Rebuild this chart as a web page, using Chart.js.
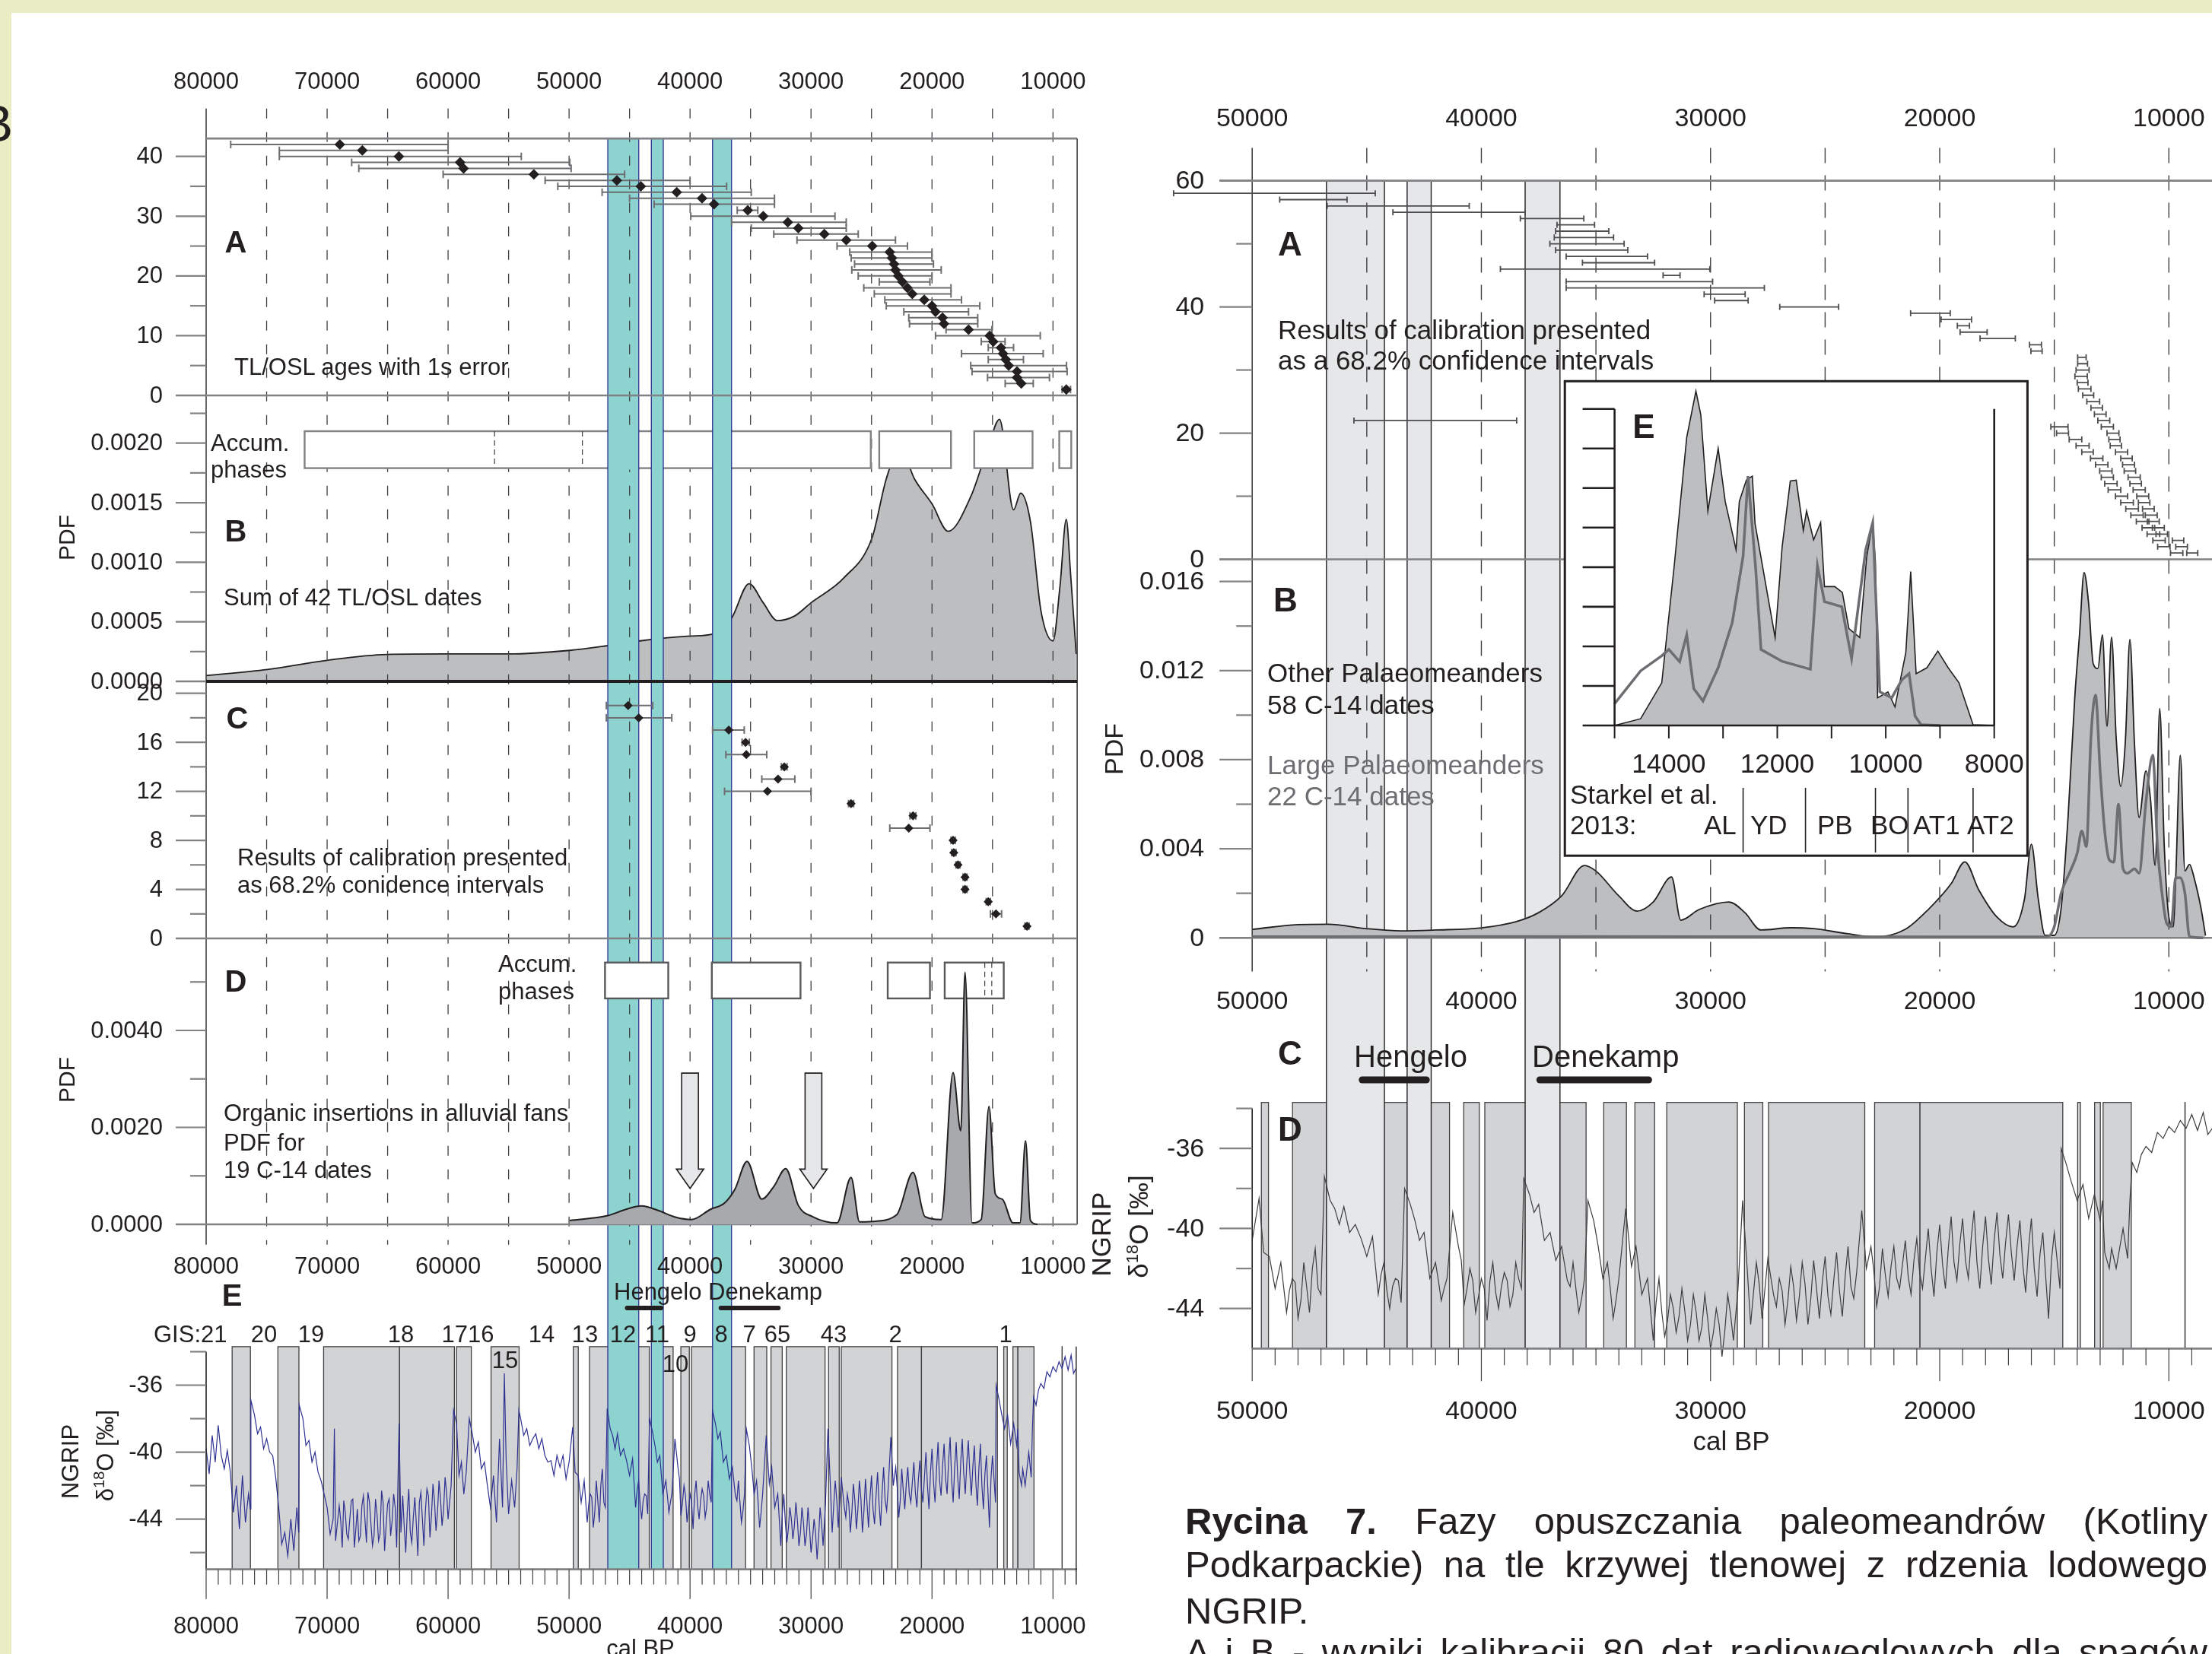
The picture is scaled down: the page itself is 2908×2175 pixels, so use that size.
<!DOCTYPE html>
<html>
<head>
<meta charset="utf-8">
<script src="https://cdn.jsdelivr.net/npm/chart.js@4.4.1/dist/chart.umd.min.js"></script>
<style>
  html, body { margin: 0; padding: 0; }
  body { width: 2908px; height: 2175px; overflow: hidden; position: relative; background: #e8edc3;
         font-family: "Liberation Sans", Arial, sans-serif; color: #231f20; }
  #page { position: absolute; left: 15px; top: 17px; width: 2893px; height: 2158px; background: #fff; }
  #fig { position: absolute; left: 0; top: 0; }
  .t { position: absolute; white-space: nowrap; line-height: 1; transform: translateY(-50%); }
  .c { transform: translate(-50%, -50%); }
  .v { transform: translate(-50%, -50%) rotate(-90deg); }
  .L { font-size: 31px; }
  .R { font-size: 35px; }
  .bl { font-size: 40px; font-weight: bold; }
  .br { font-size: 44px; font-weight: bold; }
  .cap { position: absolute; left: 1558px; width: 1344px; font-size: 49px; line-height: 1;
         transform: translateY(-50%); text-align: justify; text-align-last: justify; }
</style>
</head>
<body>
<div id="page"></div>
<canvas id="fig" width="2908" height="2175"></canvas>

<!-- left figure -->
<div class="t" style="left:-31px;width:48px;text-align:right;top:162px;font-size:68px;">B</div>
<div class="t c bl" style="left:310px;top:318px;">A</div>
<div class="t L" style="left:308px;top:482px;">TL/OSL ages with 1s error</div>
<div class="t L" style="left:277px;top:582px;">Accum.</div>
<div class="t L" style="left:277px;top:617px;">phases</div>
<div class="t c bl" style="left:310px;top:698px;">B</div>
<div class="t L" style="left:294px;top:785px;">Sum of 42 TL/OSL dates</div>
<div class="t v" style="left:88px;top:707px;font-size:30px;">PDF</div>
<div class="t c bl" style="left:312px;top:944px;">C</div>
<div class="t L" style="left:312px;top:1127px;">Results of calibration presented</div>
<div class="t L" style="left:312px;top:1163px;">as 68.2% conidence intervals</div>
<div class="t c bl" style="left:310px;top:1290px;">D</div>
<div class="t L" style="left:655px;top:1267px;">Accum.</div>
<div class="t L" style="left:655px;top:1303px;">phases</div>
<div class="t v" style="left:88px;top:1420px;font-size:30px;">PDF</div>
<div class="t L" style="left:294px;top:1463px;">Organic insertions in alluvial fans</div>
<div class="t L" style="left:294px;top:1502px;">PDF for</div>
<div class="t L" style="left:294px;top:1538px;">19 C-14 dates</div>
<div class="t c bl" style="left:305px;top:1703px;">E</div>
<div class="t L" style="left:807px;top:1698px;">Hengelo Denekamp</div>
<div class="t L" style="left:202px;top:1754px;">GIS:21</div>
<div class="t c L" style="left:347px;top:1754px;">20</div>
<div class="t c L" style="left:409px;top:1754px;">19</div>
<div class="t c L" style="left:527px;top:1754px;">18</div>
<div class="t c L" style="left:615px;top:1754px;">1716</div>
<div class="t c L" style="left:712px;top:1754px;">14</div>
<div class="t c L" style="left:769px;top:1754px;">13</div>
<div class="t c L" style="left:819px;top:1754px;">12</div>
<div class="t c L" style="left:864px;top:1754px;">11</div>
<div class="t c L" style="left:907px;top:1754px;">9</div>
<div class="t c L" style="left:948px;top:1754px;">8</div>
<div class="t c L" style="left:985px;top:1754px;">7</div>
<div class="t c L" style="left:1022px;top:1754px;">65</div>
<div class="t c L" style="left:1096px;top:1754px;">43</div>
<div class="t c L" style="left:1177px;top:1754px;">2</div>
<div class="t c L" style="left:1322px;top:1754px;">1</div>
<div class="t c L" style="left:664px;top:1788px;">15</div>
<div class="t c L" style="left:888px;top:1793px;">10</div>
<div class="t v L" style="left:92px;top:1922px;">NGRIP</div>
<div class="t v L" style="left:137px;top:1914px;">&delta;<sup style="font-size:20px">18</sup>O [&permil;]</div>
<div class="t c L" style="left:842px;top:2167px;">cal BP</div>

<!-- right figure -->
<div class="t c br" style="left:1696px;top:321px;">A</div>
<div class="t R" style="left:1680px;top:433px;">Results of calibration presented</div>
<div class="t R" style="left:1680px;top:473px;">as a 68.2% confidence intervals</div>
<div class="t c br" style="left:1690px;top:789px;">B</div>
<div class="t R" style="left:1666px;top:884px;">Other Palaeomeanders</div>
<div class="t R" style="left:1666px;top:926px;">58 C-14 dates</div>
<div class="t R" style="left:1666px;top:1005px;color:#6d6e71;">Large Palaeomeanders</div>
<div class="t R" style="left:1666px;top:1046px;color:#6d6e71;">22 C-14 dates</div>
<div class="t v" style="left:1464px;top:985px;font-size:34px;">PDF</div>
<div class="t c br" style="left:2161px;top:561px;">E</div>
<div class="t R" style="left:2064px;top:1044px;">Starkel et al.</div>
<div class="t R" style="left:2064px;top:1084px;">2013:</div>
<div class="t R" style="left:2240px;top:1084px;">AL</div>
<div class="t R" style="left:2301px;top:1084px;">YD</div>
<div class="t R" style="left:2389px;top:1084px;">PB</div>
<div class="t R" style="left:2459px;top:1084px;">BO</div>
<div class="t R" style="left:2515px;top:1084px;">AT1</div>
<div class="t R" style="left:2586px;top:1084px;">AT2</div>
<div class="t c br" style="left:1696px;top:1385px;">C</div>
<div class="t" style="left:1780px;top:1389px;font-size:40px;">Hengelo</div>
<div class="t" style="left:2014px;top:1389px;font-size:40px;">Denekamp</div>
<div class="t c br" style="left:1696px;top:1485px;">D</div>
<div class="t v R" style="left:1447px;top:1623px;">NGRIP</div>
<div class="t v R" style="left:1496px;top:1613px;">&delta;<sup style="font-size:22px">18</sup>O [&permil;]</div>
<div class="t c R" style="left:2276px;top:1894px;">cal BP</div>

<div class="cap" style="top:2000px;"><b>Rycina 7.</b> Fazy opuszczania paleomeandrów (Kotliny</div>
<div class="cap" style="top:2057px;">Podkarpackie) na tle krzywej tlenowej z rdzenia lodowego</div>
<div class="cap" style="top:2118px;text-align-last:left;">NGRIP.</div>
<div class="cap" style="top:2172px;">A i B - wyniki kalibracji 80 dat radiowęglowych dla spągów</div>

<script>
// ---------- left figure data ----------
const leftYearTicks = [80000, 70000, 60000, 50000, 40000, 30000, 20000, 10000];
const leftGridYears = [75000, 70000, 65000, 60000, 55000, 50000, 45000, 40000, 35000, 30000, 25000, 20000, 15000, 10000];

// A: TL/OSL ages (rank 42 .. 1)
const tlAge = [68950, 67090, 64070, 59010, 58720, 52910, 46050, 44070, 41100, 39010, 38020, 35230, 33950, 31920, 31050, 28900, 27090, 24940, 23490, 23310, 23140, 23020, 22790, 22440, 22030, 21630, 20640, 20000, 19710, 19130, 19010, 16980, 15230, 14940, 14300, 14130, 13900, 13660, 12970, 12970, 12620, 8900];
const tlOlder = [77970, 73950, 73950, 67970, 67380, 60410, 51980, 50930, 47270, 45000, 42970, 36100, 39940, 36570, 34940, 33080, 31160, 27850, 26800, 26680, 26400, 26630, 26100, 24360, 25640, 24770, 23900, 23780, 22330, 21920, 21860, 18840, 19710, 15930, 15350, 17560, 15350, 16800, 16690, 15410, 13950, 9250];
const tlYounger = [60000, 60000, 53950, 49940, 49830, 45410, 40000, 36980, 34940, 33020, 33020, 34400, 28020, 27090, 27090, 26100, 23020, 22030, 20000, 20000, 19880, 19240, 20000, 20170, 18430, 18430, 17560, 16050, 16980, 16220, 16220, 15050, 11050, 13960, 13260, 10810, 12440, 8880, 8830, 10290, 11630, 8550];

// B: summed PDF of TL/OSL dates
const tlPdfYears = [80000, 74940, 70000, 65060, 60000, 55000, 49940, 46800, 44130, 40000, 38020, 36570, 35120, 33950, 32790, 31340, 30000, 27270, 24940, 23780, 22620, 21450, 20000, 18660, 16800, 15350, 14420, 13260, 12670, 11860, 10990, 10000, 9420, 8900, 8550, 8080];
const tlPdfValues = [0.000049, 0.0001, 0.000177, 0.000226, 0.00023, 0.00023, 0.00026, 0.0003, 0.00034, 0.00038, 0.0004, 0.00053, 0.00082, 0.00066, 0.00051, 0.00055, 0.00066, 0.00087, 0.00121, 0.0017, 0.00196, 0.0017, 0.00149, 0.00126, 0.00155, 0.00197, 0.0022, 0.00144, 0.00158, 0.00134, 0.00059, 0.00034, 0.0008, 0.00136, 0.00091, 0.00023];
const accumTL = [[71860, 25060], [24360, 18430], [16510, 11690], [9480, 8490]];
const accumTLDividers = [56160, 48900];

// C: calibrated C-14 dates (rank 19 .. 1)
const cAge = [45120, 44240, 36800, 35410, 35350, 32210, 32730, 33600, 26690, 21570, 21920, 18260, 18200, 17850, 17270, 17270, 15350, 14710, 12150];
const cOlder = [46920, 46920, 38140, 35700, 37040, 32450, 34070, 37150, 26900, 21820, 23490, 18430, 18370, 18020, 17440, 17440, 15520, 15170, 12320];
const cYounger = [43080, 41510, 35520, 35100, 33660, 31980, 31340, 30000, 26480, 21340, 20170, 18080, 18020, 17680, 17100, 17100, 15170, 14250, 11980];

// D: PDF of 19 C-14 dates, organic insertions
const orgPdfYears = [49940, 46800, 45290, 44010, 42670, 41220, 39880, 38310, 37150, 36280, 35290, 34070, 33080, 32090, 31050, 29880, 27850, 26690, 25990, 24940, 22910, 21570, 20580, 19240, 18260, 17620, 17270, 16690, 15930, 15290, 14770, 14190, 13310, 12730, 12270, 11860, 11280];
const orgPdfValues = [0.00008, 0.00018, 0.00031, 0.00038, 0.00029, 0.00015, 0.0001, 0.00031, 0.00044, 0.00073, 0.0013, 0.00052, 0.00078, 0.00115, 0.00039, 0.00016, 0.00003, 0.00097, 0.00005, 0.00006, 0.0002, 0.00107, 0.00016, 0.0001, 0.00313, 0.00193, 0.0052, 0.00003, 0.0001, 0.00243, 0.00063, 0.00052, 0.00003, 0.00003, 0.00172, 0.00008, 0];
const accumOrg = [[47030, 41800], [38200, 30870], [23660, 20170], [18950, 14070]];
const accumOrgDividers = [15640, 15060];
const arrowYears = [40000, 29800];

const cyanBands = [[46800, 44240], [43200, 42210], [38140, 36570]];
const hengelo = [45200, 42400];
const denekamp = [37450, 32700];

// E: NGRIP d18O record [year BP, permil]
const ngrip = [
  [80000, -39.8], [79750, -41.3], [79500, -39.0], [79250, -40.6], [79000, -38.4], [78750, -40.2], [78500, -41.0], [78250, -39.9],
  [78000, -41.2], [77750, -43.6], [77500, -42.0], [77250, -44.6], [77000, -41.4], [76750, -44.2], [76500, -42.5], [76350, -43.4],
  [76300, -36.9], [76000, -37.8], [75750, -38.9], [75500, -38.5], [75250, -39.8], [75000, -39.2], [74750, -40.0], [74500, -40.2],
  [74250, -41.5], [74000, -43.3], [73750, -45.5], [73500, -44.8], [73250, -46.2], [73000, -44.0], [72750, -45.9], [72500, -43.3],
  [72350, -44.8], [72300, -37.2], [72000, -38.0], [71750, -39.6], [71500, -39.3], [71250, -40.6], [71000, -40.0], [70750, -41.2],
  [70500, -41.7], [70250, -42.5], [70000, -43.3], [69750, -44.9], [69500, -44.0], [69400, -38.6], [69300, -45.3], [69000, -43.2],
  [68750, -45.7], [68500, -43.6], [68250, -45.2], [68000, -42.9], [67750, -45.7], [67500, -43.4], [67250, -45.0], [67000, -42.6],
  [66750, -45.4], [66500, -43.0], [66250, -45.6], [66000, -42.8], [65750, -45.3], [65500, -42.3], [65250, -45.9], [65000, -43.1],
  [64750, -45.0], [64500, -42.5], [64250, -45.7], [64050, -38.3], [63900, -44.8], [63750, -42.6], [63500, -46.0], [63250, -42.2],
  [63000, -45.4], [62750, -42.7], [62500, -46.2], [62250, -42.4], [62000, -45.6], [61750, -42.2], [61500, -45.1], [61250, -41.9],
  [61000, -44.7], [60750, -41.7], [60500, -44.4], [60250, -41.5], [60000, -44.0], [59750, -42.0], [59550, -37.5], [59300, -38.3],
  [59100, -41.4], [58900, -40.6], [58700, -42.5], [58500, -41.2], [58250, -38.0], [58000, -38.9], [57750, -40.0], [57500, -39.4],
  [57250, -41.0], [57000, -40.6], [56750, -42.0], [56500, -43.3], [56250, -41.4], [56000, -44.2], [55750, -39.2], [55500, -43.3],
  [55350, -35.3], [55200, -40.5], [55000, -43.7], [54750, -41.7], [54500, -43.3], [54300, -41.0], [54150, -37.5], [54000, -38.0],
  [53750, -39.0], [53500, -38.6], [53250, -39.6], [53000, -39.2], [52750, -38.9], [52500, -39.8], [52250, -39.2], [52000, -40.2],
  [51750, -40.6], [51500, -40.5], [51250, -41.4], [51000, -40.2], [50750, -40.9], [50500, -40.2], [50250, -41.6], [50000, -40.6],
  [49700, -38.5], [49500, -41.2], [49250, -41.4], [49000, -43.0], [48750, -41.7], [48500, -44.2], [48250, -42.5], [48000, -44.5],
  [47750, -41.7], [47500, -44.2], [47250, -41.0], [47000, -43.3], [46850, -37.4], [46600, -38.6], [46400, -39.0], [46200, -39.8],
  [46000, -38.9], [45750, -40.2], [45500, -39.8], [45250, -40.5], [45000, -41.4], [44750, -40.4], [44500, -43.3], [44250, -41.7],
  [44000, -44.0], [43750, -42.5], [43500, -43.7], [43350, -38.0], [43100, -38.8], [42900, -39.6], [42700, -40.6], [42500, -40.2],
  [42250, -42.5], [42000, -41.7], [41750, -43.6], [41500, -42.5], [41250, -39.2], [41000, -40.9], [40750, -43.8], [40500, -42.0],
  [40250, -44.2], [40000, -42.5], [39750, -44.6], [39500, -41.7], [39250, -44.0], [39000, -42.2], [38750, -43.9], [38500, -41.7],
  [38250, -43.0], [38150, -37.5], [37900, -38.3], [37700, -39.2], [37500, -38.8], [37250, -40.6], [37000, -40.2], [36750, -41.6],
  [36500, -40.9], [36250, -42.6], [36000, -41.7], [35750, -44.2], [35500, -42.5], [35350, -38.6], [35100, -39.6], [34900, -40.9],
  [34700, -42.5], [34500, -41.7], [34250, -44.5], [34000, -42.5], [33700, -39.0], [33450, -41.9], [33250, -40.9], [33000, -43.3],
  [32750, -42.5], [32500, -45.6], [32250, -42.5], [32000, -45.4], [31750, -43.3], [31500, -45.2], [31250, -43.0], [31000, -45.6],
  [30750, -43.3], [30500, -45.6], [30250, -43.3], [30000, -46.0], [29750, -44.0], [29500, -46.4], [29250, -43.3], [29000, -45.6],
  [28800, -43.0], [28600, -38.6], [28400, -42.0], [28250, -44.8], [28000, -41.7], [27750, -44.5], [27500, -41.5], [27250, -43.3],
  [27000, -42.5], [26750, -44.8], [26500, -41.9], [26250, -44.6], [26000, -41.7], [25750, -44.8], [25500, -41.6], [25250, -44.5],
  [25000, -41.4], [24750, -44.3], [24500, -41.2], [24250, -44.4], [24000, -40.9], [23750, -43.5], [23400, -39.1], [23200, -42.0],
  [23000, -40.9], [22750, -43.9], [22500, -41.0], [22250, -43.4], [22000, -40.9], [21750, -43.0], [21500, -40.6], [21250, -43.3],
  [21000, -40.5], [20750, -43.0], [20500, -40.0], [20250, -43.4], [20000, -39.8], [19750, -43.0], [19500, -39.4], [19250, -42.6],
  [19000, -39.5], [18750, -42.5], [18500, -39.1], [18250, -43.0], [18000, -39.4], [17750, -42.8], [17500, -39.2], [17250, -42.5],
  [17000, -39.3], [16750, -42.6], [16500, -39.6], [16250, -43.2], [16000, -39.5], [15750, -43.4], [15500, -40.2], [15250, -44.5],
  [15000, -40.2], [14750, -43.0], [14700, -36.0], [14500, -36.7], [14250, -37.7], [14000, -38.6], [13750, -37.8], [13500, -39.5],
  [13250, -38.3], [13000, -39.6], [12900, -38.6], [12800, -41.2], [12600, -42.0], [12500, -41.0], [12300, -42.0], [12000, -40.0],
  [11800, -41.5], [11700, -38.6], [11600, -36.7], [11400, -37.2], [11200, -36.3], [11000, -35.9], [10750, -36.2], [10500, -35.2],
  [10250, -35.5], [10000, -34.9], [9750, -35.2], [9500, -34.6], [9250, -35.0], [9000, -34.3], [8750, -35.1], [8500, -34.2],
  [8300, -35.3], [8100, -35.0]
];
// extra in-between readings of the noisy stadial parts
const ngripDetail = [
  [68875, -44.1], [68625, -42.9], [68375, -44.9], [68125, -44.0], [67875, -42.8], [67625, -44.6], [67375, -45.3], [67125, -43.2],
  [66875, -44.0], [66625, -42.4], [66375, -44.3], [66125, -45.0], [65875, -43.7], [65625, -44.9], [65375, -43.0], [65125, -44.4],
  [64875, -42.8], [64625, -44.1], [64375, -43.3], [63625, -44.5], [63375, -43.6], [63125, -44.8], [62875, -43.9], [62625, -44.3],
  [62375, -43.0], [62125, -44.0], [61875, -43.5], [61625, -42.6], [61375, -43.8], [61125, -42.9], [60875, -43.6], [60625, -42.8],
  [60375, -43.5], [60125, -42.4],
  [48375, -43.1], [48125, -42.7], [47875, -43.6], [47625, -42.9], [47375, -42.0], [47125, -43.0],
  [44375, -42.3], [44125, -43.1], [43875, -42.9], [43625, -42.6],
  [41875, -42.6], [41625, -43.0], [40875, -41.6], [40625, -43.0], [40375, -42.6], [40125, -43.4], [39875, -43.0], [39625, -42.6],
  [39375, -43.2], [39125, -42.9], [38875, -42.6], [38625, -43.3], [38375, -42.5],
  [36125, -42.9], [35875, -43.0], [35625, -43.5], [34375, -43.0], [34125, -43.6],
  [32625, -44.0], [32375, -43.7], [32125, -44.2], [31875, -44.6], [31625, -44.0], [31375, -44.4], [31125, -44.1], [30875, -44.8],
  [30625, -44.2], [30375, -44.9], [30125, -44.5], [29875, -45.2], [29625, -44.8], [29375, -45.1], [29125, -44.3],
  [28125, -43.2], [27875, -42.8], [27125, -43.9], [26875, -43.1], [26625, -43.6], [26375, -42.9], [26125, -43.4], [25875, -42.8],
  [25625, -43.5], [25375, -43.0], [25125, -42.7], [24875, -43.4], [24625, -42.6], [24375, -43.1], [24125, -42.4], [23875, -42.9],
  [23625, -42.2],
  [22875, -42.1], [22625, -42.9], [22375, -42.3], [22125, -41.9], [21875, -42.5], [21625, -41.8], [21375, -42.4], [21125, -41.6],
  [20875, -42.2], [20625, -41.5], [20375, -42.0], [20125, -41.2], [19875, -41.8], [19625, -41.0], [19375, -41.7], [19125, -40.8],
  [18875, -41.6], [18625, -40.5], [18375, -41.7], [18125, -40.9], [17875, -41.5], [17625, -40.6], [17375, -41.3], [17125, -40.7],
  [16875, -41.2], [16625, -40.9], [16375, -41.8], [16125, -41.0], [15875, -42.0], [15625, -41.3], [15375, -42.4], [15125, -41.6]
];
const gisLeft = [[77850, 76340], [74070, 72330], [70290, 64010], [64010, 59480], [59300, 58080], [56450, 54130], [49650, 49240],
  [48310, 43370], [42500, 41400], [40760, 40060], [39880, 35410], [34710, 33660], [33310, 32380], [32040, 28840], [28550, 27670],
  [27500, 23310], [22850, 20870], [20870, 14590], [14070, 13780], [13310, 12900], [12900, 11570], [9250, 9240]];

const aTicks = [0, 10, 20, 30, 40], aMinor = [5, 15, 25, 35];
const bTicks = [0, 0.0005, 0.001, 0.0015, 0.002], bMinor = [0.00025, 0.00075, 0.00125, 0.00175, 0.00225];
const cTicks = [0, 4, 8, 12, 16, 20], cMinor = [2, 6, 10, 14, 18];
const dTicks = [0, 0.002, 0.004], dMinor = [0.001, 0.003, 0.005];
const eTicks = [-36, -40, -44], eMinor = [-34, -38, -42, -46];

// ---------- right figure data ----------
const rightYearTicks = [50000, 40000, 30000, 20000, 10000];
const rightGridYears = [45000, 40000, 35000, 30000, 25000, 20000, 15000, 10000];
const greyBands = [[46760, 44230], [43240, 42190], [38090, 36570]];

// A: calibrated C-14 dates, other palaeomeanders (rank 58 .. 1) and large ones (rank 22 .. 1)
const otherOlder = [53430, 48800, 46730, 43860, 38300, 36700, 36760, 36820, 37010, 36760, 36300, 35590, 39170, 32070, 36300, 36300, 30280, 29820, 26980, 21270, 19940, 19230, 19110, 18240, 16080, 16020, 13980, 13980, 14050, 14100, 14000, 13950, 13760, 13580, 13400, 13250, 13100, 12950, 12700, 12620, 12560, 12330, 12100, 12020, 11950, 11780, 11700, 11560, 11400, 11330, 11150, 11030, 10940, 10720, 10560, 9850, 9700, 9220];
const otherYounger = [44630, 45860, 40530, 38090, 35530, 35060, 34440, 34230, 33770, 33610, 32750, 32440, 30030, 31330, 29910, 27650, 28490, 28360, 24410, 19540, 18610, 18700, 17930, 16700, 15560, 15530, 13610, 13550, 13480, 13560, 13530, 13400, 13280, 13020, 12900, 12740, 12580, 12420, 12180, 12130, 12070, 11800, 11600, 11500, 11450, 11250, 11200, 11030, 10880, 10830, 10640, 10510, 10420, 10200, 10060, 9350, 9190, 8740];
const largeOlder = [45560, 15150, 14900, 14350, 14050, 13800, 13420, 13200, 13020, 12950, 12800, 12650, 12330, 12100, 11880, 11660, 11420, 11170, 10950, 10700, 10490, 9930];
const largeYounger = [38460, 14400, 14380, 13800, 13480, 13300, 12880, 12660, 12480, 12420, 12260, 12100, 11800, 11550, 11330, 11120, 10870, 10620, 10400, 10160, 9950, 9390];

// B: summed PDFs
const otherPdfYears = [50000, 48000, 46700, 45000, 43500, 42000, 40000, 38500, 37500, 36500, 35500, 35000, 34000, 33200, 32500, 31700, 31300, 30500, 29200, 28500, 27800, 26500, 25500, 24000, 22800, 21500, 20500, 19500, 18900, 18300, 17500, 16800, 16300, 16000, 15700, 15400, 15000, 14700, 14400, 14100, 13900, 13700, 13500, 13300, 13100, 12900, 12700, 12500, 12300, 12100, 11900, 11700, 11500, 11300, 11000, 10800, 10600, 10400, 10200, 10000, 9800, 9700, 9500, 9300, 9100, 8900, 8600, 8400];
const otherPdfValues = [0.00038, 0.00059, 0.00061, 0.00041, 0.00031, 0.00035, 0.00045, 0.00072, 0.00113, 0.00188, 0.00325, 0.003, 0.00188, 0.0012, 0.00161, 0.00273, 0.00079, 0.00127, 0.00161, 0.00113, 0.00035, 0.00045, 0.00041, 0.00018, 0.00004, 0.00038, 0.00127, 0.00243, 0.00341, 0.00216, 0.00093, 0.00049, 0.00175, 0.0042, 0.00175, 0.00011, 0.00011, 0.00134, 0.0054, 0.0109, 0.0136, 0.0164, 0.015, 0.0123, 0.0121, 0.0136, 0.0095, 0.0135, 0.009, 0.0068, 0.0088, 0.0134, 0.0087, 0.0054, 0.0075, 0.0062, 0.00325, 0.0103, 0.0041, 0.00093, 0.0005, 0.0027, 0.0082, 0.003, 0.0033, 0.0027, 0.00134, 0.0001];
const largePdfYears = [50000, 40000, 30000, 20000, 16000, 15300, 15000, 14700, 14300, 14000, 13800, 13600, 13400, 13200, 13000, 12800, 12600, 12400, 12200, 12000, 11800, 11500, 11300, 11000, 10700, 10500, 10300, 10100, 9900, 9700, 9500, 9300, 9100, 8500];
const largePdfValues = [0.00005, 0.00006, 0.00005, 0.00004, 0.00004, 0.00005, 0.0005, 0.002, 0.003, 0.0038, 0.0048, 0.0041, 0.009, 0.0109, 0.0075, 0.0048, 0.0035, 0.0034, 0.006, 0.0031, 0.0029, 0.0031, 0.0029, 0.0061, 0.0082, 0.0041, 0.002, 0.00066, 0.0005, 0.0027, 0.0027, 0.002, 0.00005, 0];

// E (inset): late-glacial part of both PDFs
const insetYearTicks = [14000, 12000, 10000, 8000];
const insetOtherYears = [15000, 14520, 14130, 13900, 13670, 13500, 13410, 13280, 13090, 12960, 12760, 12700, 12570, 12460, 12410, 12040, 11910, 11760, 11650, 11520, 11460, 11330, 11200, 11130, 10940, 10800, 10680, 10480, 10350, 10240, 10190, 10150, 9960, 9830, 9630, 9540, 9440, 9240, 9040, 8850, 8650, 8390, 8000];
const insetOtherValues = [0, 0.17, 1.08, 4.04, 7.28, 8.45, 7.85, 5.42, 7.0, 5.66, 4.44, 5.66, 6.2, 6.3, 5.1, 2.22, 4.52, 6.18, 6.2, 4.93, 5.42, 4.69, 5.13, 3.51, 3.51, 3.36, 2.45, 2.22, 4.28, 5.13, 4.12, 0.7, 0.85, 0.47, 1.84, 3.89, 1.31, 1.46, 1.88, 1.46, 1.08, 0.02, 0];
const insetLargeYears = [15000, 14520, 14130, 14000, 13800, 13670, 13540, 13370, 13090, 12830, 12630, 12540, 12400, 12300, 11910, 11390, 11260, 11130, 10810, 10630, 10370, 10240, 10110, 9890, 9700, 9570, 9460, 9350, 9000];
const insetLargeValues = [0.55, 1.38, 1.76, 1.92, 1.61, 2.29, 0.93, 0.62, 1.46, 2.6, 4.28, 6.3, 4.0, 1.92, 1.62, 1.42, 4.04, 3.13, 3.0, 1.69, 4.44, 5.13, 0.85, 0.7, 1.16, 1.31, 0.24, 0.02, 0];
const chronoBounds = [12630, 11480, 10190, 9590, 8390];

// D: GIS boxes on the right panel
const gisRight = [[49600, 49290], [48240, 41390], [40770, 40090], [39850, 35430], [34660, 33670], [33300, 32440], [31910, 28830],
  [28520, 27720], [27470, 23270], [22840, 20860], [20860, 14630], [13980, 13860], [13240, 12990], [12870, 11640], [9300, 9290]];

const raTicks = [0, 20, 40, 60], raMinor = [10, 30, 50];
const rbTicks = [0, 0.004, 0.008, 0.012, 0.016], rbMinor = [0.002, 0.006, 0.01, 0.014];
const rdTicks = [-36, -40, -44], rdMinor = [-34, -38, -42];
const insetTicks = [0, 1, 2, 3, 4, 5, 6, 7, 8];

// ---------- helpers ----------
const W = 2908, H = 2175;
const ink = '#231f20', frameGray = '#808285', gridInk = '#414042';
const FONT = '"Liberation Sans", Arial, sans-serif';

// scale ranges so that value v1 lands on pixel p1 and v2 on p2 (one canvas for the whole page)
function xRange(v1, p1, v2, p2) {
  const k = (p2 - p1) / (v1 - v2);
  const max = v1 + p1 / k;
  return { min: max - W / k, max: max };
}
function yRange(v1, p1, v2, p2) {
  const k = (p2 - p1) / (v1 - v2);
  const min = v2 - (H - p2) / k;
  return { min: min, max: min + H / k };
}

function seg(ctx, x1, y1, x2, y2, color, width, dash) {
  ctx.save();
  ctx.strokeStyle = color;
  ctx.lineWidth = width;
  ctx.setLineDash(dash || []);
  ctx.beginPath();
  ctx.moveTo(x1, y1);
  ctx.lineTo(x2, y2);
  ctx.stroke();
  ctx.restore();
}
function box(ctx, x1, y1, x2, y2, fill, stroke, width) {
  ctx.save();
  if (fill) { ctx.fillStyle = fill; ctx.fillRect(x1, y1, x2 - x1, y2 - y1); }
  if (stroke) { ctx.strokeStyle = stroke; ctx.lineWidth = width; ctx.strokeRect(x1, y1, x2 - x1, y2 - y1); }
  ctx.restore();
}
function label(ctx, str, x, y, size, align) {
  ctx.save();
  ctx.font = size + 'px ' + FONT;
  ctx.fillStyle = ink;
  ctx.textAlign = align || 'center';
  ctx.textBaseline = 'middle';
  ctx.fillText(str, x, y + 1);
  ctx.restore();
}
function yAxisTicks(ctx, s, axisX, majors, minors, fmt, size, majLen, minLen, gap) {
  majors.forEach(v => {
    const y = s.getPixelForValue(v);
    seg(ctx, axisX - majLen, y, axisX, y, frameGray, 2.2);
    label(ctx, fmt(v), axisX - gap, y, size, 'right');
  });
  minors.forEach(v => {
    const y = s.getPixelForValue(v);
    seg(ctx, axisX - minLen, y, axisX, y, frameGray, 2.2);
  });
}

function bars(older, younger, top) {
  const out = [];
  older.forEach((o, i) => {
    out.push({ x: o, y: top - i }, { x: younger[i], y: top - i }, { x: younger[i], y: null });
  });
  return out;
}
const pts = (xs, ys) => xs.map((x, i) => ({ x: x, y: ys[i] }));
const ngripAll = ngrip.concat(ngripDetail).sort((a, b) => b[0] - a[0]);

// ---------- drawing layers ----------
function drawLeftFrame(chart) {
  const ctx = chart.ctx, s = chart.scales;
  const xL = v => s.xL.getPixelForValue(v);
  const left = xL(80000), right = xL(8000);
  const bandTop = s.yA.getPixelForValue(43), bandBot = s.yE.getPixelForValue(-47);
  cyanBands.forEach(b => box(ctx, xL(b[0]), bandTop, xL(b[1]), bandBot, '#8dd3cf', '#2e3192', 1.3));

  const gTop = s.yA.getPixelForValue(48), gBot = s.yD.getPixelForValue(-0.00042);
  leftGridYears.forEach(v => seg(ctx, xL(v), gTop, xL(v), gBot, gridInk, 1.3, [13, 18]));
  seg(ctx, left, gTop, left, gBot, gridInk, 1.6);

  seg(ctx, left, s.yA.getPixelForValue(43), right, s.yA.getPixelForValue(43), frameGray, 2.6);
  seg(ctx, right, s.yA.getPixelForValue(43), right, s.yD.getPixelForValue(0), gridInk, 1.6);
  seg(ctx, left - 40, s.yA.getPixelForValue(0), right, s.yA.getPixelForValue(0), frameGray, 2.4);
  seg(ctx, left - 40, s.yB.getPixelForValue(0), left, s.yB.getPixelForValue(0), frameGray, 2.4);
  seg(ctx, left, s.yB.getPixelForValue(0), right, s.yB.getPixelForValue(0), ink, 4);
  seg(ctx, left - 40, s.yC.getPixelForValue(0), right, s.yC.getPixelForValue(0), frameGray, 2.4);
  seg(ctx, left - 40, s.yD.getPixelForValue(0), right, s.yD.getPixelForValue(0), frameGray, 2.4);

  // accumulation phases in B (bands run over them)
  const bTop = s.yB.getPixelForValue(0.0021), bBot = s.yB.getPixelForValue(0.00179);
  accumTL.forEach(b => box(ctx, xL(b[0]), bTop, xL(b[1]), bBot, '#fff', frameGray, 2.4));
  accumTLDividers.forEach(v => seg(ctx, xL(v), bTop, xL(v), bBot, gridInk, 1.2, [7, 5]));
  cyanBands.forEach(b => {
    box(ctx, xL(b[0]), bTop - 2, xL(b[1]), bBot + 2, '#8dd3cf', null);
    seg(ctx, xL(b[0]), bTop - 2, xL(b[0]), bBot + 2, '#2e3192', 1.3);
    seg(ctx, xL(b[1]), bTop - 2, xL(b[1]), bBot + 2, '#2e3192', 1.3);
  });

  // accumulation phases in D (boxes cover the bands)
  const dTop = s.yD.getPixelForValue(0.0054), dBot = s.yD.getPixelForValue(0.00466);
  accumOrg.forEach(b => box(ctx, xL(b[0]), dTop, xL(b[1]), dBot, '#fff', '#58595b', 2.4));
  accumOrgDividers.forEach(v => seg(ctx, xL(v), dTop, xL(v), dBot, gridInk, 1.2, [7, 5]));
}

function drawRightFrame(chart) {
  const ctx = chart.ctx, s = chart.scales;
  const xR = v => s.xR.getPixelForValue(v);
  const axis = xR(50000);
  const gTop = s.yRA.getPixelForValue(65.2), gBot = s.yRB.getPixelForValue(-0.00151);
  rightGridYears.forEach(v => seg(ctx, xR(v), gTop, xR(v), gBot, gridInk, 1.4, [20, 16]));
  seg(ctx, axis, gTop, axis, gBot, gridInk, 1.6);
  seg(ctx, axis - 43, s.yRA.getPixelForValue(60), W, s.yRA.getPixelForValue(60), frameGray, 2.6);
  seg(ctx, axis - 43, s.yRA.getPixelForValue(0), W, s.yRA.getPixelForValue(0), frameGray, 2.4);
  seg(ctx, axis - 43, s.yRB.getPixelForValue(0), W, s.yRB.getPixelForValue(0), frameGray, 2.4);
}

function drawInsetBox(chart) {
  const ctx = chart.ctx, s = chart.scales;
  box(ctx, s.xI.getPixelForValue(15917), s.yI.getPixelForValue(8.7), s.xI.getPixelForValue(7387), s.yI.getPixelForValue(-3.29), '#fff', ink, 3);
}

const figurePlugin = {
  id: 'figure',
  beforeDatasetsDraw(chart) {
    const ctx = chart.ctx, s = chart.scales;
    const xL = v => s.xL.getPixelForValue(v), xR = v => s.xR.getPixelForValue(v);
    const eTop = s.yE.getPixelForValue(-33.7), eBot = s.yE.getPixelForValue(-47);
    gisLeft.forEach(b => box(ctx, xL(b[0]), eTop, xL(b[1]), eBot, '#d1d3d4', gridInk, 1.3));
    const dTop = s.yRD.getPixelForValue(-33.7), dBot = s.yRD.getPixelForValue(-46);
    gisRight.forEach(b => box(ctx, xR(b[0]), dTop, xR(b[1]), dBot, '#d1d3d4', gridInk, 1.3));
    const gbTop = s.yRA.getPixelForValue(60);
    greyBands.forEach(b => box(ctx, xR(b[0]), gbTop, xR(b[1]), dBot, '#e6e7e8', ink, 1.4));
  },
  afterDatasetDraw(chart, args) {
    const tag = chart.data.datasets[args.index].tag;
    if (tag === 'tlPdf') drawLeftFrame(chart);
    if (tag === 'otherPdf') drawRightFrame(chart);
    if (tag === 'ngripR') drawInsetBox(chart);
  },
  afterDatasetsDraw(chart) {
    const ctx = chart.ctx, s = chart.scales;
    const xL = v => s.xL.getPixelForValue(v), xR = v => s.xR.getPixelForValue(v), xI = v => s.xI.getPixelForValue(v);

    // ----- left axes -----
    const lAxis = xL(80000), lRight = xL(8000);
    yAxisTicks(ctx, s.yA, lAxis, aTicks, aMinor, v => String(v), 31, 40, 21, 57);
    yAxisTicks(ctx, s.yB, lAxis, bTicks, bMinor, v => v.toFixed(4), 31, 40, 21, 57);
    yAxisTicks(ctx, s.yC, lAxis, cTicks, cMinor, v => String(v), 31, 40, 21, 57);
    yAxisTicks(ctx, s.yD, lAxis, dTicks, dMinor, v => v.toFixed(4), 31, 40, 21, 57);
    const eBase = s.yE.getPixelForValue(-47);
    seg(ctx, lAxis, s.yE.getPixelForValue(-34), lAxis, eBase, ink, 1.6);
    yAxisTicks(ctx, s.yE, lAxis, eTicks, eMinor, v => String(v), 31, 40, 21, 57);
    seg(ctx, lAxis, eBase, lRight, eBase, frameGray, 2.8);
    seg(ctx, xL(8080), s.yE.getPixelForValue(-33.7), xL(8080), eBase + 20, ink, 1.4);
    for (let v = 80000; v >= 9000; v -= 1000) {
      const major = v % 10000 === 0;
      seg(ctx, xL(v), eBase, xL(v), eBase + (major ? 39 : 20), gridInk, 1.2);
    }
    leftYearTicks.forEach(v => {
      label(ctx, String(v), xL(v), 107, 31);
      label(ctx, String(v), xL(v), 1665, 31);
      label(ctx, String(v), xL(v), 2138, 31);
    });

    // arrows in D
    const aTop = s.yD.getPixelForValue(0.00312), aHead = s.yD.getPixelForValue(0.00114), aTip = s.yD.getPixelForValue(0.00074);
    arrowYears.forEach(v => {
      const x = xL(v);
      ctx.save();
      ctx.beginPath();
      ctx.moveTo(x - 11, aTop); ctx.lineTo(x + 11, aTop); ctx.lineTo(x + 11, aHead);
      ctx.lineTo(x + 18, aHead); ctx.lineTo(x, aTip); ctx.lineTo(x - 18, aHead);
      ctx.lineTo(x - 11, aHead); ctx.closePath();
      ctx.fillStyle = '#e6e7e8'; ctx.fill();
      ctx.strokeStyle = ink; ctx.lineWidth = 1.6; ctx.stroke();
      ctx.restore();
    });

    // stadial bars
    [hengelo, denekamp].forEach(b => {
      ctx.save(); ctx.lineCap = 'round';
      seg(ctx, xL(b[0]), 1720, xL(b[1]), 1720, ink, 6);
      ctx.restore();
    });

    // ----- right axes -----
    const rAxis = xR(50000);
    yAxisTicks(ctx, s.yRA, rAxis, raTicks, raMinor, v => String(v), 34, 43, 21, 63);
    yAxisTicks(ctx, s.yRB, rAxis, rbTicks, rbMinor, v => v === 0 ? '0' : v.toFixed(3), 34, 43, 21, 63);
    const dBase = s.yRD.getPixelForValue(-46);
    seg(ctx, rAxis, s.yRD.getPixelForValue(-34), rAxis, dBase, ink, 1.6);
    yAxisTicks(ctx, s.yRD, rAxis, rdTicks, rdMinor, v => String(v), 34, 43, 21, 63);
    seg(ctx, rAxis, dBase, W, dBase, frameGray, 2.8);
    for (let v = 50000; v >= 8000; v -= 1000) {
      const major = v % 10000 === 0;
      seg(ctx, xR(v), dBase, xR(v), dBase + (major ? 43 : 22), gridInk, 1.2);
    }
    rightYearTicks.forEach(v => {
      label(ctx, String(v), xR(v), 156, 34);
      label(ctx, String(v), xR(v), 1317, 34);
      label(ctx, String(v), xR(v), 1856, 34);
    });
    ctx.save(); ctx.lineCap = 'round';
    [hengelo, denekamp].forEach(b => seg(ctx, xR(b[0]), 1420, xR(b[1]), 1420, ink, 9));
    ctx.restore();

    // ----- inset -----
    const iAxis = xI(15000), iRight = xI(8000), iBase = s.yI.getPixelForValue(0), iTop = s.yI.getPixelForValue(8);
    seg(ctx, iAxis, iTop, iAxis, iBase, ink, 2.6);
    seg(ctx, iRight, iTop, iRight, iBase, ink, 2.6);
    seg(ctx, iAxis, iBase, iRight, iBase, ink, 2.6);
    insetTicks.forEach(v => seg(ctx, iAxis - 42, s.yI.getPixelForValue(v), iAxis, s.yI.getPixelForValue(v), ink, 2.6));
    for (let v = 15000; v >= 8000; v -= 1000) seg(ctx, xI(v), iBase, xI(v), iBase + 17, ink, 2);
    insetYearTicks.forEach(v => label(ctx, String(v), xI(v), 1005, 35));
    chronoBounds.forEach(v => seg(ctx, xI(v), 1036, xI(v), 1121, ink, 1.6));
  }
};

// ---------- chart ----------
const lin = { type: 'linear', display: false, bounds: 'data' };
const errStyle = (color, width, cap) => ({
  type: 'line', showLine: true, spanGaps: false, fill: false, borderColor: color, borderWidth: width,
  pointStyle: 'line', pointRotation: 90, pointRadius: cap, pointBorderColor: color, pointBorderWidth: width, pointHoverRadius: cap
});
const diamonds = r => ({ type: 'line', showLine: false, pointStyle: 'rectRot', pointRadius: r, pointHoverRadius: r,
  pointBackgroundColor: ink, pointBorderWidth: 0, borderWidth: 0 });

new Chart(document.getElementById('fig'), {
  type: 'line',
  data: {
    datasets: [
      { tag: 'tlPdf', order: 100, xAxisID: 'xL', yAxisID: 'yB', data: pts(tlPdfYears, tlPdfValues),
        fill: 'origin', backgroundColor: '#bcbec0', borderColor: ink, borderWidth: 1.8, pointRadius: 0,
        cubicInterpolationMode: 'monotone' },
      { tag: 'otherPdf', order: 99, xAxisID: 'xR', yAxisID: 'yRB', data: pts(otherPdfYears, otherPdfValues),
        fill: 'origin', backgroundColor: '#bcbec0', borderColor: ink, borderWidth: 1.8, pointRadius: 0,
        cubicInterpolationMode: 'monotone' },
      { order: 98, xAxisID: 'xR', yAxisID: 'yRB', data: pts(largePdfYears, largePdfValues),
        fill: false, borderColor: '#6d6e71', borderWidth: 3.5, pointRadius: 0, cubicInterpolationMode: 'monotone' },
      { order: 90, xAxisID: 'xL', yAxisID: 'yD', data: pts(orgPdfYears, orgPdfValues),
        fill: 'origin', backgroundColor: '#a7a9ac', borderColor: ink, borderWidth: 2, pointRadius: 0,
        cubicInterpolationMode: 'monotone' },
      Object.assign(errStyle('#6d6e71', 2, 5), { order: 80, xAxisID: 'xL', yAxisID: 'yA', data: bars(tlOlder, tlYounger, 42) }),
      Object.assign(diamonds(7), { order: 79, xAxisID: 'xL', yAxisID: 'yA', data: tlAge.map((a, i) => ({ x: a, y: 42 - i })) }),
      Object.assign(errStyle('#6d6e71', 2, 5), { order: 78, xAxisID: 'xL', yAxisID: 'yC', data: bars(cOlder, cYounger, 19) }),
      Object.assign(diamonds(6), { order: 77, xAxisID: 'xL', yAxisID: 'yC', data: cAge.map((a, i) => ({ x: a, y: 19 - i })) }),
      Object.assign(errStyle('#4d4d4f', 1.8, 4), { order: 76, xAxisID: 'xR', yAxisID: 'yRA', data: bars(otherOlder, otherYounger, 58) }),
      Object.assign(errStyle('#4d4d4f', 1.8, 4), { order: 75, xAxisID: 'xR', yAxisID: 'yRA', data: bars(largeOlder, largeYounger, 22) }),
      { tag: 'ngripL', order: 70, xAxisID: 'xL', yAxisID: 'yE', data: ngripAll.map(p => ({ x: p[0], y: p[1] })),
        fill: false, borderColor: '#2e3192', borderWidth: 1.2, pointRadius: 0 },
      { tag: 'ngripR', order: 69, xAxisID: 'xR', yAxisID: 'yRD', data: ngripAll.filter(p => p[0] <= 50000).map(p => ({ x: p[0], y: p[1] })),
        fill: false, borderColor: '#3d3d3f', borderWidth: 1.2, pointRadius: 0 },
      { order: 10, xAxisID: 'xI', yAxisID: 'yI', data: pts(insetOtherYears, insetOtherValues),
        fill: 'origin', backgroundColor: '#bcbec0', borderColor: ink, borderWidth: 1.6, pointRadius: 0 },
      { order: 9, xAxisID: 'xI', yAxisID: 'yI', data: pts(insetLargeYears, insetLargeValues),
        fill: false, borderColor: '#6d6e71', borderWidth: 3.5, pointRadius: 0 }
    ]
  },
  options: {
    responsive: false,
    animation: false,
    events: [],
    layout: { padding: 0, autoPadding: false },
    plugins: { legend: { display: false }, tooltip: { enabled: false } },
    scales: {
      xL: Object.assign({}, lin, { axis: 'x', reverse: true }, xRange(80000, 271, 10000, 1384.3)),
      xR: Object.assign({}, lin, { axis: 'x', reverse: true }, xRange(50000, 1646.2, 10000, 2851.3)),
      xI: Object.assign({}, lin, { axis: 'x', reverse: true }, xRange(14000, 2193.9, 8000, 2621.7)),
      yA: Object.assign({}, lin, { axis: 'y' }, yRange(40, 205.7, 0, 520)),
      yB: Object.assign({}, lin, { axis: 'y' }, yRange(0.002, 582.7, 0, 896)),
      yC: Object.assign({}, lin, { axis: 'y' }, yRange(20, 911.7, 0, 1234)),
      yD: Object.assign({}, lin, { axis: 'y' }, yRange(0.004, 1355, 0, 1610)),
      yE: Object.assign({}, lin, { axis: 'y' }, yRange(-36, 1821.5, -44, 1997.6)),
      yRA: Object.assign({}, lin, { axis: 'y' }, yRange(60, 237.6, 0, 735.5)),
      yRB: Object.assign({}, lin, { axis: 'y' }, yRange(0.016, 764.7, 0, 1233.2)),
      yRD: Object.assign({}, lin, { axis: 'y' }, yRange(-36, 1510.2, -44, 1720.7)),
      yI: Object.assign({}, lin, { axis: 'y' }, yRange(8, 537.7, 0, 954))
    }
  },
  plugins: [figurePlugin]
});
</script>
</body>
</html>
